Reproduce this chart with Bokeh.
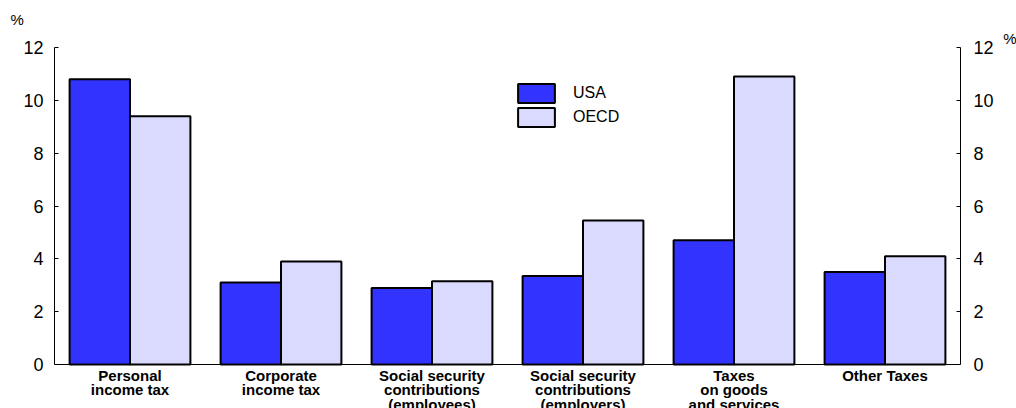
from bokeh.plotting import figure
from bokeh.models import FactorRange, Range1d, LinearAxis, Title, Legend, LegendItem, ColumnDataSource, Span
from bokeh.core.properties import value
from bokeh.transform import dodge
from bokeh.embed import file_html
from bokeh.resources import INLINE

categories = ["Personal\nincome tax", "Corporate\nincome tax",
              "Social security\ncontributions\n(employees)",
              "Social security\ncontributions\n(employers)",
              "Taxes\non goods\nand services", "Other Taxes"]
usa = [10.8, 3.1, 2.9, 3.35, 4.7, 3.5]
oecd = [9.4, 3.9, 3.15, 5.45, 10.9, 4.1]
y_ticks = [0, 2, 4, 6, 8, 10, 12]
base = [0, 0, 0, 0, 0, 0]

src = ColumnDataSource(dict(cat=categories, usa=usa, oecd=oecd, base=base))

font = "Liberation Sans"
# y range extends below 0 so that the category labels can be drawn inside the frame
p = figure(width=1016, height=408, x_range=FactorRange(*categories, range_padding=0),
           y_range=Range1d(-44 / (317 / 12), 12), output_backend="svg", toolbar_location=None,
           title=None,
           min_border_left=54, min_border_right=56, min_border_top=47, min_border_bottom=0)
p.outline_line_color = None
p.xgrid.visible = False
p.ygrid.visible = False
p.xaxis.visible = False
p.background_fill_color = "white"

r1 = p.vbar(x=dodge("cat", -0.2, range=p.x_range), top="usa", bottom="base", width=0.4,
            source=src, fill_color="#3333FF", line_color="black", line_width=2)
r2 = p.vbar(x=dodge("cat", 0.2, range=p.x_range), top="oecd", bottom="base", width=0.4,
            source=src, fill_color="#DADAFF", line_color="black", line_width=2)

p.add_layout(Span(location=0, dimension="width", line_color="black", line_width=1))

p.text(x="cat", y="base", text="cat", source=src, y_offset=2,
       text_align="center", text_baseline="top", text_font=value(font),
       text_font_style="bold", text_font_size="15px", text_line_height=0.87,
       text_color="black")

for ax in p.yaxis:
    ax.ticker = y_ticks
    ax.bounds = (0, 12)
    ax.major_tick_in = 4
    ax.major_tick_out = 0
    ax.minor_tick_line_color = None
    ax.major_label_text_font = font
    ax.major_label_text_font_size = "18px"
    ax.major_label_text_color = "black"
    ax.major_label_standoff = 11
    ax.axis_line_color = "black"
    ax.major_tick_line_color = "black"

rax = LinearAxis(ticker=y_ticks, bounds=(0, 12), major_tick_in=4, major_tick_out=0,
                 minor_tick_line_color=None, major_label_text_font=font,
                 major_label_text_color="black", axis_line_color="black",
                 major_tick_line_color="black",
                 major_label_text_font_size="18px", major_label_standoff=13)
p.add_layout(rax, "right")

legend = Legend(items=[LegendItem(label="USA", renderers=[r1]),
                       LegendItem(label="OECD", renderers=[r2])],
                location=(459, 279), padding=0, margin=0, spacing=0,
                glyph_width=46, glyph_height=24, label_height=24,
                label_standoff=14, label_text_font=font, label_text_font_size="16px",
                label_text_color="black",
                border_line_color=None, background_fill_alpha=0)
p.add_layout(legend, "center")

p.add_layout(Title(text="%", align="right", offset=-56, standoff=2, text_font=font,
                   text_font_size="15px", text_font_style="normal", text_color="black"), "above")
p.add_layout(Title(text="%", align="left", offset=-44, standoff=-2, text_font=font,
                   text_font_size="15px", text_font_style="normal", text_color="black"), "above")

open("out.html", "w").write(file_html(p, INLINE))
